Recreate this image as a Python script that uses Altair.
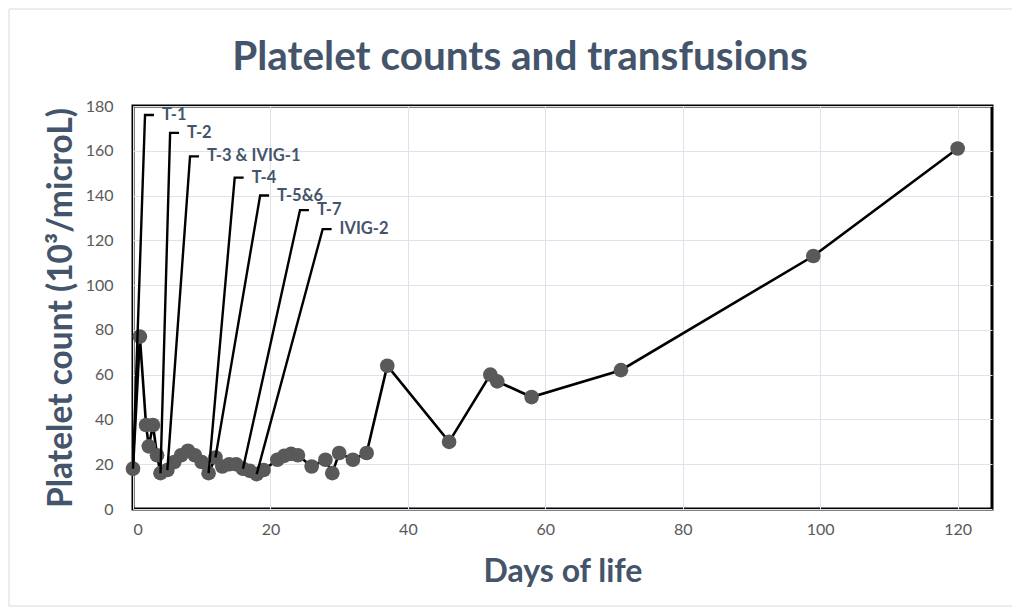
import altair as alt
import pandas as pd

# Platelet counts by day of life
days = [0, 1, 1.9, 2.3, 2.9, 3.5, 4, 5, 6, 7, 8, 9, 10, 11, 12, 13, 14, 15, 16, 17,
        18, 19, 21, 22, 23, 24, 26, 28, 29, 30, 32, 34, 37, 46, 52, 53, 58, 71, 99, 120]
counts = [18, 77, 37.5, 28, 37.5, 24, 16, 17.4, 21, 24, 26, 24, 21, 16, 23, 19, 20, 20, 18, 17,
          15.6, 17.4, 22, 23.7, 24.6, 24, 19, 22, 16, 25, 22, 25, 64, 30, 60, 57, 50, 62, 113, 161]

# Transfusion / IVIG annotations: label, day and count of the marked point,
# and where the label sits (in data units)
ann_labels = ["T-1", "T-2", "T-3 & IVIG-1", "T-4", "T-5&6", "T-7", "IVIG-2"]
ann_day = [0, 4, 5, 11, 12, 16, 18]
ann_count = [18, 16, 17.4, 16, 23, 18, 15.6]
ann_label_day = [1.75, 5.4, 8.3, 14.8, 18.5, 24.3, 27.6]
ann_label_count = [176, 168, 157.5, 148, 140, 133.5, 125]
ann_tail = 1.3  # length of horizontal leader tail, in days

chart_title = "Platelet counts and transfusions"

TITLE_COLOR = "#44546A"
LABEL_COLOR = "#595959"
FONT = "Lato"

df = pd.DataFrame({"day": days, "count": counts})

rows = []
for i, lab in enumerate(ann_labels):
    rows.append({"label": lab, "o": 0, "day": ann_day[i], "count": ann_count[i]})
    rows.append({"label": lab, "o": 1, "day": ann_label_day[i], "count": ann_label_count[i]})
    rows.append({"label": lab, "o": 2, "day": ann_label_day[i] + ann_tail, "count": ann_label_count[i]})
leaders = pd.DataFrame(rows)
texts = pd.DataFrame({"label": ann_labels,
                      "day": [d + ann_tail for d in ann_label_day],
                      "count": ann_label_count})

xscale = alt.Scale(domain=[0, 125], nice=False, zero=False)
yscale = alt.Scale(domain=[0, 180], nice=False)

xaxis = alt.Axis(values=[0, 20, 40, 60, 80, 100, 120], title="Days of life")
yaxis = alt.Axis(values=list(range(0, 181, 20)), title="Platelet count (10³/microL)")

base = alt.Chart(df)
line = base.mark_line(color="black", strokeWidth=2.6).encode(
    x=alt.X("day:Q", scale=xscale, axis=xaxis),
    y=alt.Y("count:Q", scale=yscale, axis=yaxis),
)
pts = base.mark_circle(color="#595959", opacity=1, size=215).encode(
    x=alt.X("day:Q", scale=xscale),
    y=alt.Y("count:Q", scale=yscale),
)
lead = alt.Chart(leaders).mark_line(color="black", strokeWidth=2.4).encode(
    x=alt.X("day:Q", scale=xscale),
    y=alt.Y("count:Q", scale=yscale),
    detail="label:N",
    order="o:Q",
)
txt = alt.Chart(texts).mark_text(
    align="left", baseline="middle", dx=8, font=FONT, fontWeight="bold",
    fontSize=16.5, color=TITLE_COLOR,
).encode(
    x=alt.X("day:Q", scale=xscale),
    y=alt.Y("count:Q", scale=yscale),
    text="label:N",
)

one = pd.DataFrame({"t": [chart_title]})
frame = alt.Chart(one).mark_rect(
    fill=None, stroke="#D9D9D9", strokeWidth=1
).encode(
    x=alt.value(-124), x2=alt.value(880), y=alt.value(-97), y2=alt.value(500)
)
title = alt.Chart(one).mark_text(
    align="center", baseline="alphabetic", font=FONT, fontWeight="bold",
    fontSize=40.5, color=TITLE_COLOR,
).encode(
    x=alt.value(387), y=alt.value(-36), text="t:N"
)

chart = alt.layer(frame, title, line, pts, lead, txt).properties(
    width=859, height=403,
    autosize=alt.AutoSizeParams(type="none"),
    padding={"left": 125, "top": 98, "right": 20, "bottom": 100},
).configure_view(
    stroke="black", strokeWidth=3
).configure_axis(
    grid=True, gridColor="#DCE3EC", gridWidth=1, domain=False, ticks=False,
    labelFont=FONT, labelFontSize=16, labelColor=LABEL_COLOR,
    titleFont=FONT, titleFontWeight="bold", titleColor=TITLE_COLOR,
).configure_axisX(
    labelPadding=12, titleFontSize=32, titlePadding=19,
).configure_axisY(
    labelPadding=20, titleFontSize=33.5, titlePadding=7,
)

chart.save("out.html", embed_options={"renderer": "svg", "actions": False})
